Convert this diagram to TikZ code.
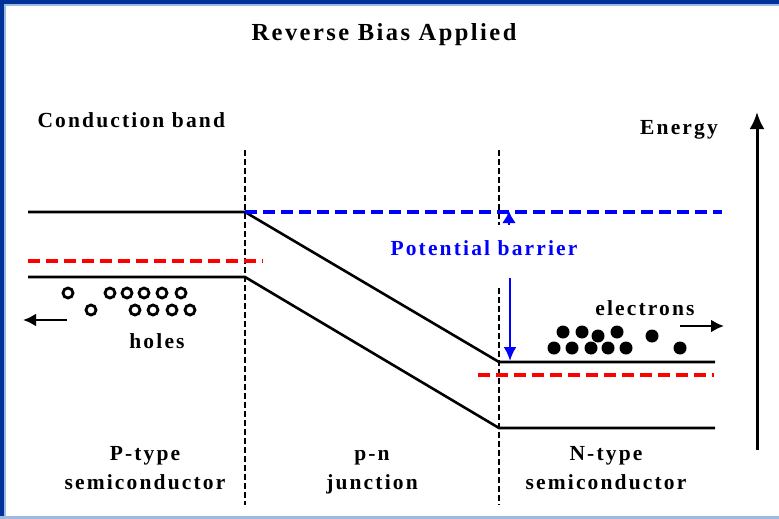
\documentclass[tikz,border=0pt]{standalone}
\usepackage{fontspec}
\setmainfont{Liberation Serif}
\usetikzlibrary{arrows.meta}
\newfontfamily\spaced[LetterSpace=10]{Liberation Serif}
\definecolor{frameblue}{RGB}{0,51,153}
\definecolor{framelight}{RGB}{160,185,225}
\begin{document}
\begin{tikzpicture}[
        x=1pt, y=-1pt,
        band/.style={line width=2.6pt},
        fermi/.style={red,line width=3.2pt,dash pattern=on 12pt off 6pt},
        vac/.style={blue,line width=3.2pt,dash pattern=on 12pt off 6pt},
        border/.style={black,line width=2.6pt,dash pattern=on 6pt off 3pt},
        hole/.style={draw,circle,line width=2.8pt,inner sep=0pt,minimum size=10pt},
        elec/.style={fill,circle,inner sep=0pt,minimum size=13pt},
        lbl/.style={font=\spaced\bfseries\fontsize{21.5}{29}\selectfont,align=center},
        ]
    \useasboundingbox (0,0) rectangle (779,519);
    % frame
    \fill[frameblue] (0,0) rectangle (779,4);
    \fill[frameblue] (0,0) rectangle (4,519);
    \fill[framelight] (4,4) rectangle (779,6);
    \fill[framelight] (4,6) rectangle (6,519);
    \fill[framelight] (0,516) rectangle (779,519);

    % corners of the bands
    \coordinate (ptop) at (28,212);
    \coordinate (jtop) at (245,212);
    \coordinate (ntop) at (499,362);
    \coordinate (etop) at (715,362);
    \coordinate (pbot) at (28,277);
    \coordinate (jbot) at (245,277);
    \coordinate (nbot) at (499,428);
    \coordinate (ebot) at (715,428);
    \coordinate (vend) at (722,212);

    % region borders
    \draw[border] (245,150) coordinate (l1) -- (245,505) coordinate (l2);
    \draw[border] (499,150) coordinate (r1) -- (499,225) coordinate (r2);
    \draw[border] (499,288) coordinate (r3) -- (499,505) coordinate (r4);

    % bands
    \draw[band] (ptop) -- (jtop) -- (ntop) -- (etop);
    \draw[band] (pbot) -- (jbot) -- (nbot) -- (ebot);
    \draw[vac] (jtop) -- (vend);
    \draw[fermi] (28,261) coordinate (pf1) -- (263,261) coordinate (pf2);
    \draw[fermi] (478,375) coordinate (nf1) -- (714,375) coordinate (nf2);

    % barrier height
    \coordinate (bup) at (509,225);
    \draw[blue,line width=2.6pt,-{Latex[length=12pt,width=14pt]}] (bup) -- (509,211);
    \coordinate (bdn) at (510,278);
    \draw[blue,line width=2.6pt,-{Latex[length=14pt,width=13pt]}] (bdn) -- (510,361);
    \node[lbl,text=blue] (pb) at (484,248) {Potential barrier};

    % holes
    \foreach \x/\y [count=\i] in {68/293,110/293,127/293,144/293,162/293,181/293,
                                   91/310,135/310,153/310,172/310,190/310}
        \node[hole] (h\i) at (\x,\y) {};
    \coordinate (ha) at (67,320);
    \draw[line width=2.6pt,-{Latex[length=13pt,width=13pt]}] (ha) -- (23,320);
    \node[lbl] (holes) at (157,341) {holes};

    % electrons
    \foreach \x/\y [count=\i] in {563/332,582/332,617/332,598/336,652/336,
                                   554/348,572/348,591/348,608/348,626/348,680/348}
        \node[elec] (e\i) at (\x,\y) {};
    \coordinate (ea) at (680,326);
    \draw[line width=2.6pt,-{Latex[length=13pt,width=13pt]}] (ea) -- (724,326);
    \node[lbl] (electrons) at (645,308) {electrons};

    % energy axis
    \coordinate (en0) at (757,450);
    \draw[line width=3pt,-{Latex[length=17pt,width=15pt]}] (en0) -- (757,112);
    \node[lbl] (energy) at (679,130) {Energy};

    % titles and region names
    \node[lbl,font=\spaced\bfseries\fontsize{24.5}{28}\selectfont] (title) at (384,35) {Reverse Bias Applied};
    \node[lbl,anchor=west] (cb) at (34,120) {Conduction band};
    \node[lbl] (ptype) at (145,469) {\strut P-type\\\strut semiconductor};
    \node[lbl] (pn) at (372,469) {\strut p-n\\\strut junction};
    \node[lbl] (ntype) at (606,469) {\strut N-type\\\strut semiconductor};
\end{tikzpicture}
\end{document}
